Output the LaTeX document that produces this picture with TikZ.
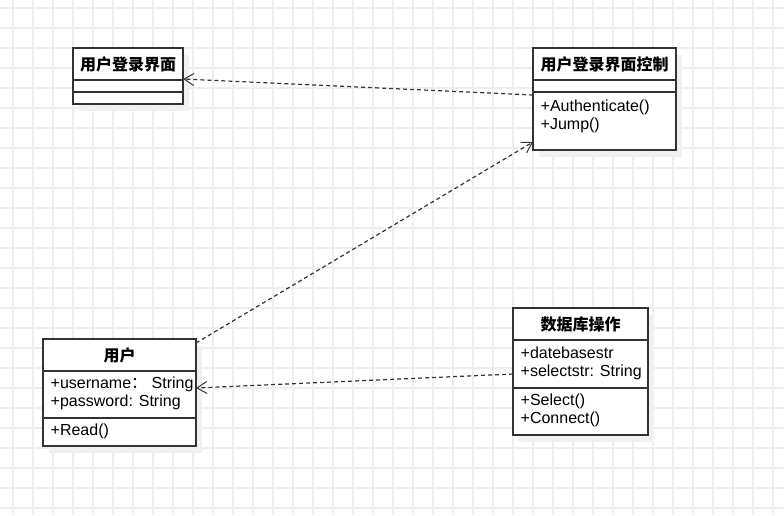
\documentclass[tikz,border=0pt]{standalone}
\usepackage{fontspec}
\setmainfont{Liberation Sans}
\newfontfamily\cjk{Noto Sans CJK SC}
\usetikzlibrary{arrows.meta,shadows}
\definecolor{gridc}{HTML}{EEEEEE}
\definecolor{linec}{HTML}{333333}
\definecolor{shadc}{HTML}{F0F0F0}
\begin{document}
\begin{tikzpicture}[x=1pt,y=-1pt,
  gridline/.style={draw=gridc, line width=1.1pt},
  classbox/.style={draw=linec, line width=1.2pt, fill=white, inner sep=0pt, outer sep=0pt,
    drop shadow={shadow xshift=6pt, shadow yshift=-7pt, fill=shadc, opacity=1}},
  divline/.style={draw=linec, line width=1.2pt},
  hdr/.style={font=\cjk\bfseries\fontsize{16pt}{18pt}\selectfont, inner sep=0pt, anchor=center},
  member/.style={font=\fontsize{16pt}{18pt}\selectfont, inner sep=0pt, anchor=base west},
  dep/.style={draw=linec, line width=1.2pt, dash pattern=on 4pt off 3pt,
    -{Straight Barb[length=10pt,width=12pt,line width=1pt]}}
]
\useasboundingbox (0,0) rectangle (784,515);
\fill[white] (0,0) rectangle (784,515);
\foreach \x in {13,33,...,773} \draw[gridline] (\x,0) -- (\x,515);
\foreach \y in {8,28,...,508} \draw[gridline] (0,\y) -- (784,\y);

% 用户登录界面
\node[classbox, minimum width=110pt, minimum height=56pt] (ui) at (128,76) {};
\draw[divline] (ui.west |- 0,80) -- (ui.east |- 0,80);
\draw[divline] (ui.west |- 0,92) -- (ui.east |- 0,92);
\node[hdr] (uih) at (128,64) {用户登录界面};

% 用户登录界面控制
\node[classbox, minimum width=143pt, minimum height=102pt] (ctrl) at (604.5,99) {};
\draw[divline] (ctrl.west |- 0,80) -- (ctrl.east |- 0,80);
\draw[divline] (ctrl.west |- 0,92) -- (ctrl.east |- 0,92);
\node[hdr] (ctrlh) at (604.5,64) {用户登录界面控制};
\node[member] (ctrlm1) at (540.5,111) {+Authenticate()};
\node[member] (ctrlm2) at (540.5,129) {+Jump()};

% 用户
\node[classbox, minimum width=153pt, minimum height=107pt] (user) at (119.5,392.5) {};
\draw[divline] (user.west |- 0,371) -- (user.east |- 0,371);
\draw[divline] (user.west |- 0,418) -- (user.east |- 0,418);
\node[hdr] (userh) at (119.5,355) {用户};
\node[member] (usera1) at (50.5,388) {+username{\cjk ：} String};
\node[member] (usera2) at (50.5,406) {+password: String};
\node[member] (userm1) at (50.5,435) {+Read()};

% 数据库操作
\node[classbox, minimum width=135pt, minimum height=127pt] (db) at (580.5,371.5) {};
\draw[divline] (db.west |- 0,340) -- (db.east |- 0,340);
\draw[divline] (db.west |- 0,388) -- (db.east |- 0,388);
\node[hdr] (dbh) at (580.5,324) {数据库操作};
\node[member] (dba1) at (520.5,358.5) {+datebasestr};
\node[member] (dba2) at (520.5,376.5) {+selectstr: String};
\node[member] (dbm1) at (520.5,405) {+Select()};
\node[member] (dbm2) at (520.5,423) {+Connect()};

% dependencies
\draw[dep] ([yshift=4pt]ctrl.west) -- ([yshift=-3pt]ui.east);
\draw[dep] ([yshift=-4pt]user.north east) -- ([yshift=8pt]ctrl.south west);
\draw[dep] ([yshift=-2.5pt]db.west) -- ([yshift=4.5pt]user.east);
\end{tikzpicture}
\end{document}
